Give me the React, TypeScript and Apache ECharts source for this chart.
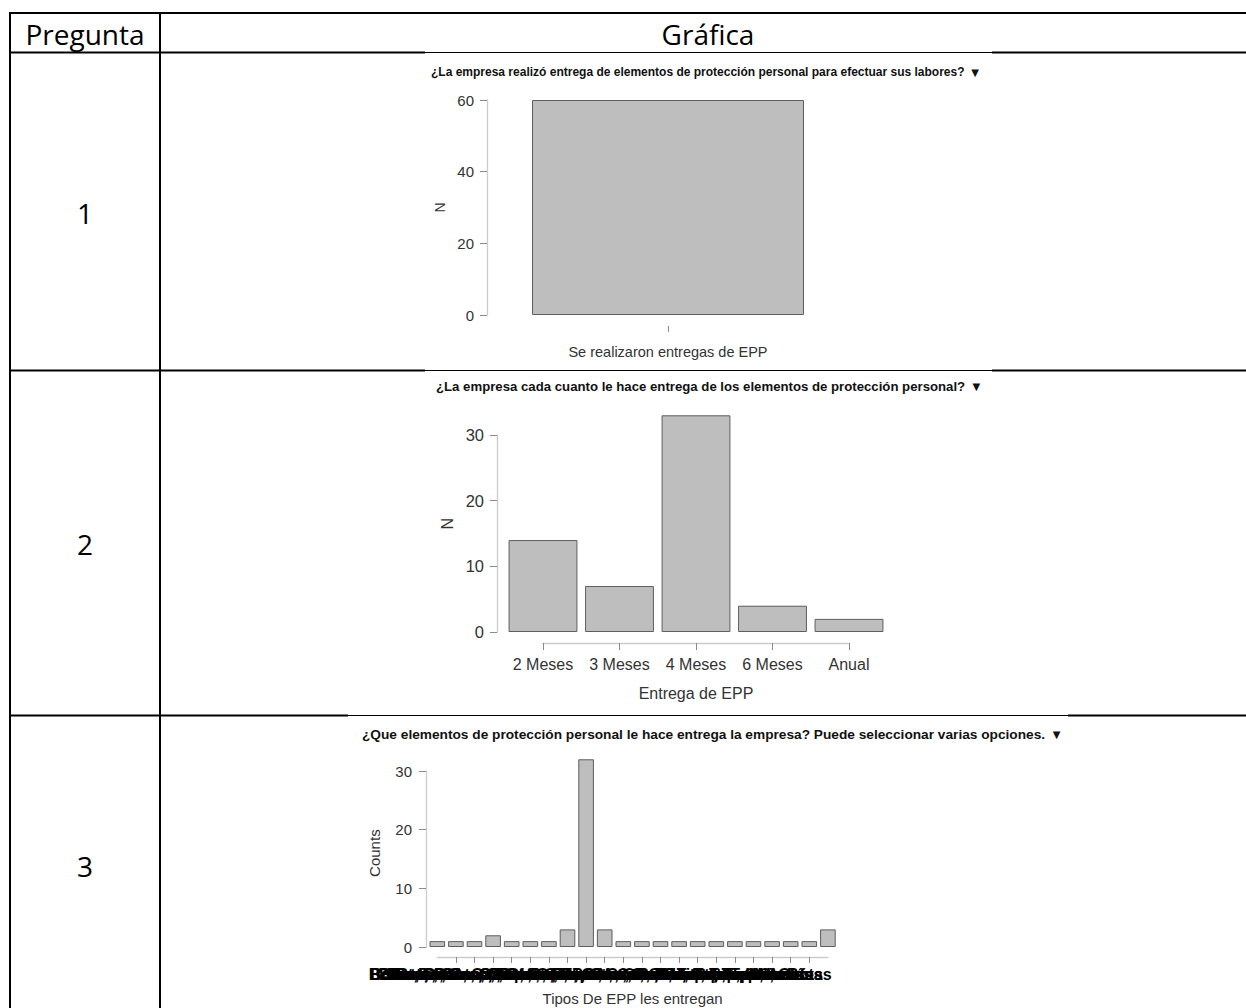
import React, { useEffect, useRef } from "react";
import * as echarts from "echarts";

// ---- Table headers ----
const headerQuestion = "Pregunta";
const headerChart = "Gráfica";
const rowNumbers = ["1", "2", "3"];

// ---- Question 1 ----
const q1Title =
  "¿La empresa realizó entrega de elementos de protección personal para efectuar sus labores?";
const q1Categories = ["Se realizaron entregas de EPP"];
const q1Counts = [60];
const q1YMax = 60;
const q1YStep = 20;
const q1YName = "N";
const q1XName = "";

// ---- Question 2 ----
const q2Title =
  "¿La empresa cada cuanto le hace entrega de los elementos de protección personal?";
const q2Categories = ["2 Meses", "3 Meses", "4 Meses", "6 Meses", "Anual"];
const q2Counts = [14, 7, 33, 4, 2];
const q2YMax = 30;
const q2YStep = 10;
const q2YName = "N";
const q2XName = "Entrega de EPP";

// ---- Question 3 ----
const q3Title =
  "¿Que elementos de protección personal le hace entrega la empresa? Puede seleccionar varias opciones.";
const q3Categories = [
  "Gafas, Tapabocas",
  "Botas, Casco, Guantes",
  "Botas, Guantes, Tapabocas",
  "Casco, Gafas, Guantes, Overol",
  "Botas, Casco, Guantes, Tapabocas",
  "Botas, Casco, Gafas, Guantes, Overol",
  "Botas, Casco, Guantes, Protector auditivo",
  "Botas, Casco, Gafas, Guantes, Overol, Careta",
  "Botas, Casco, Gafas, Guantes, Overol, Tapabocas",
  "Botas, Casco, Gafas, Guantes, Protector auditivo",
  "Botas, Casco, Guantes, Overol, Tapabocas, Arnés",
  "Casco, Gafas, Guantes, Overol, Tapabocas",
  "Botas, Gafas, Guantes, Tapabocas",
  "Botas, Casco, Overol, Tapabocas",
  "Casco, Guantes, Tapabocas",
  "Botas, Gafas, Overol",
  "Guantes, Tapabocas",
  "Botas, Guantes",
  "Casco, Gafas",
  "Guantes",
  "Botas",
  "Otro",
];
const q3Counts = [1, 1, 1, 2, 1, 1, 1, 3, 32, 3, 1, 1, 1, 1, 1, 1, 1, 1, 1, 1, 1, 3];
const q3YMax = 30;
const q3YStep = 10;
const q3YName = "Counts";
const q3XName = "Tipos De EPP les entregan";

// ---- Styling ----
const TABLE_FONT = "'Open Sans', 'Noto Sans', sans-serif";
const PLOT_FONT = "'Liberation Sans', Arial, sans-serif";
const BAR_FILL = "#bebebe";
const BAR_EDGE = "#5e5e5e";
const AXIS_LINE = "#cccccc";
const TICK = "#8a8a8a";
const LABEL = "#333333";

interface Frame {
  slotLeft: number;
  slot: number;
  zeroY: number;
  unitPx: number;
  axisX: number;
  barGap: string;
  xOffset: number;
  xTickLen: number;
  yLabelSize: number;
  xLabelSize: number;
  nameSize: number;
  yLabelMargin: number;
  xLabelMargin: number;
  xNameGap: number;
  yNameGap: number;
  xLabelColor: string;
  xLabelWeight: string;
}

const frame1: Frame = {
  slotLeft: 532, slot: 272, zeroY: 315, unitPx: 215 / 60, axisX: 487, barGap: "0%",
  xOffset: 11, xTickLen: 6, yLabelSize: 15, xLabelSize: 14.5, nameSize: 14,
  yLabelMargin: 13, xLabelMargin: 18, xNameGap: 40, yNameGap: 40, xLabelColor: LABEL,
  xLabelWeight: "normal",
};
const frame2: Frame = {
  slotLeft: 543 - 38.25, slot: 76.5, zeroY: 632, unitPx: 197 / 30, axisX: 497, barGap: "10%",
  xOffset: 11, xTickLen: 7, yLabelSize: 16.5, xLabelSize: 16, nameSize: 16,
  yLabelMargin: 13, xLabelMargin: 13, xNameGap: 42, yNameGap: 42, xLabelColor: LABEL,
  xLabelWeight: "normal",
};
const frame3: Frame = {
  slotLeft: 428, slot: 18.6, zeroY: 947, unitPx: 176 / 30, axisX: 426, barGap: "16%",
  xOffset: 10, xTickLen: 6, yLabelSize: 15, xLabelSize: 16, nameSize: 15,
  yLabelMargin: 14, xLabelMargin: 9, xNameGap: 34, yNameGap: 44, xLabelColor: "#000000",
  xLabelWeight: "bold",
};

type Opt = { grid: any[]; xAxis: any[]; yAxis: any[]; series: any[] };

function addPlot(
  opt: Opt,
  cats: string[],
  counts: number[],
  yMax: number,
  yStep: number,
  yName: string,
  xName: string,
  f: Frame
) {
  const n = cats.length;
  const top = Math.max(yMax, ...counts);
  const g0 = opt.grid.length;
  const xi = opt.xAxis.length;
  const yi = opt.yAxis.length;
  const width = n * f.slot;
  const yOffset = f.slotLeft - f.axisX;

  // data grid (bars + rotated axis title)
  opt.grid.push({ left: f.slotLeft, top: f.zeroY - top * f.unitPx, width, height: top * f.unitPx });
  // tick grid for the y axis, ending at the last labelled tick
  opt.grid.push({ left: f.slotLeft, top: f.zeroY - yMax * f.unitPx, width, height: yMax * f.unitPx });

  opt.xAxis.push({
    type: "category",
    gridIndex: g0,
    data: cats,
    show: n === 1,
    offset: f.xOffset,
    axisLine: { show: false, onZero: false },
    axisTick: { show: true, alignWithLabel: true, length: f.xTickLen, lineStyle: { color: TICK } },
    axisLabel: {
      margin: f.xLabelMargin,
      fontSize: f.xLabelSize,
      color: f.xLabelColor,
      fontWeight: f.xLabelWeight,
      fontFamily: PLOT_FONT,
    },
  });
  opt.yAxis.push({
    type: "value",
    gridIndex: g0,
    min: 0,
    max: top,
    name: yName,
    nameLocation: "middle",
    nameGap: f.yNameGap,
    nameTextStyle: { fontSize: f.nameSize, color: LABEL, fontFamily: PLOT_FONT },
    offset: yOffset,
    axisLine: { show: false, onZero: false },
    axisTick: { show: false },
    axisLabel: { show: false },
    splitLine: { show: false },
  });

  opt.xAxis.push({ type: "category", gridIndex: g0 + 1, data: cats, show: false, axisLine: { onZero: false } });
  opt.yAxis.push({
    type: "value",
    gridIndex: g0 + 1,
    min: 0,
    max: yMax,
    interval: yStep,
    offset: yOffset,
    axisLine: { show: true, onZero: false, lineStyle: { color: AXIS_LINE, width: 1.3 } },
    axisTick: { show: true, length: 7, lineStyle: { color: TICK } },
    axisLabel: { margin: f.yLabelMargin, fontSize: f.yLabelSize, color: LABEL, fontFamily: PLOT_FONT },
    splitLine: { show: false },
  });

  if (n > 1) {
    // x axis running from the first category tick to the last one
    opt.grid.push({ left: f.slotLeft + f.slot / 2, top: f.zeroY - 1, width: (n - 1) * f.slot, height: 1 });
    opt.xAxis.push({
      type: "value",
      gridIndex: g0 + 2,
      min: 0,
      max: n - 1,
      interval: 1,
      offset: f.xOffset,
      name: xName,
      nameLocation: "middle",
      nameGap: f.xNameGap,
      nameTextStyle: { fontSize: f.nameSize, color: LABEL, fontFamily: PLOT_FONT },
      axisLine: { show: true, onZero: false, lineStyle: { color: AXIS_LINE, width: 1.3 } },
      axisTick: { show: true, length: f.xTickLen, lineStyle: { color: TICK } },
      axisLabel: {
        margin: f.xLabelMargin,
        fontSize: f.xLabelSize,
        color: f.xLabelColor,
        fontWeight: f.xLabelWeight,
        fontFamily: PLOT_FONT,
        formatter: (v: number) => cats[Math.round(v)] ?? "",
      },
      splitLine: { show: false },
    });
    opt.yAxis.push({ type: "value", gridIndex: g0 + 2, show: false, axisLine: { onZero: false } });
  }

  opt.series.push({
    type: "bar",
    xAxisIndex: xi,
    yAxisIndex: yi,
    data: counts,
    barCategoryGap: f.barGap,
    silent: true,
    itemStyle: { color: BAR_FILL, borderColor: BAR_EDGE, borderWidth: 1 },
  });
}

function hLine(x1: number, x2: number, y: number, w: number) {
  return { type: "line", silent: true, shape: { x1, y1: y, x2, y2: y }, style: { stroke: "#000", lineWidth: w } };
}
function vLine(x: number, y1: number, y2: number, w: number) {
  return { type: "line", silent: true, shape: { x1: x, y1, x2: x, y2 }, style: { stroke: "#000", lineWidth: w } };
}
function cellText(text: string, x: number, y: number, size: number) {
  return {
    type: "text",
    x,
    y,
    silent: true,
    style: { text, fontSize: size, fontFamily: TABLE_FONT, fill: "#000", align: "center", verticalAlign: "middle" },
  };
}
function plotTitle(text: string, x: number, y: number, size: number) {
  return {
    type: "text",
    x,
    y,
    silent: true,
    style: {
      text: `${text}  {tri|▼}`,
      fontSize: size,
      fontWeight: "bold",
      fontFamily: PLOT_FONT,
      fill: "#111",
      align: "left",
      verticalAlign: "middle",
      rich: { tri: { fontSize: 10, fill: "#111", fontFamily: "'DejaVu Sans', sans-serif" } },
    },
  };
}

export default function App() {
  const ref = useRef<HTMLDivElement>(null);

  useEffect(() => {
    if (!ref.current) return;
    const chart = echarts.init(ref.current, undefined, { renderer: "svg" });

    const opt: Opt = { grid: [], xAxis: [], yAxis: [], series: [] };
    addPlot(opt, q1Categories, q1Counts, q1YMax, q1YStep, q1YName, q1XName, frame1);
    addPlot(opt, q2Categories, q2Counts, q2YMax, q2YStep, q2YName, q2XName, frame2);
    addPlot(opt, q3Categories, q3Counts, q3YMax, q3YStep, q3YName, q3XName, frame3);

    const graphic: any[] = [
      // table frame
      hLine(9, 1246, 13, 2),
      hLine(9, 425, 52.5, 2), hLine(425, 992, 52.5, 1), hLine(992, 1246, 52.5, 2),
      hLine(9, 425, 370.5, 2), hLine(425, 992, 370.5, 1), hLine(992, 1246, 370.5, 2),
      hLine(9, 348, 715.5, 2), hLine(348, 1068, 715.5, 1), hLine(1068, 1246, 715.5, 2),
      vLine(10, 12, 1008, 2),
      vLine(160, 12, 1008, 2),
      // table texts
      cellText(headerQuestion, 85, 34, 28),
      cellText(headerChart, 708, 34, 28),
      cellText(rowNumbers[0], 85, 213, 28),
      cellText(rowNumbers[1], 85, 544, 28),
      cellText(rowNumbers[2], 85, 866, 28),
      // plot titles
      plotTitle(q1Title, 431, 72, 12),
      plotTitle(q2Title, 436, 386, 13.2),
      plotTitle(q3Title, 362, 734, 13.7),
    ];

    chart.setOption({
      animation: false,
      backgroundColor: "#ffffff",
      grid: opt.grid,
      xAxis: opt.xAxis,
      yAxis: opt.yAxis,
      series: opt.series,
      graphic,
    });

    return () => chart.dispose();
  }, []);

  return (
    <div
      ref={ref}
      style={{ position: "fixed", left: 0, top: 0, width: 1246, height: 1008, background: "#fff" }}
    />
  );
}
